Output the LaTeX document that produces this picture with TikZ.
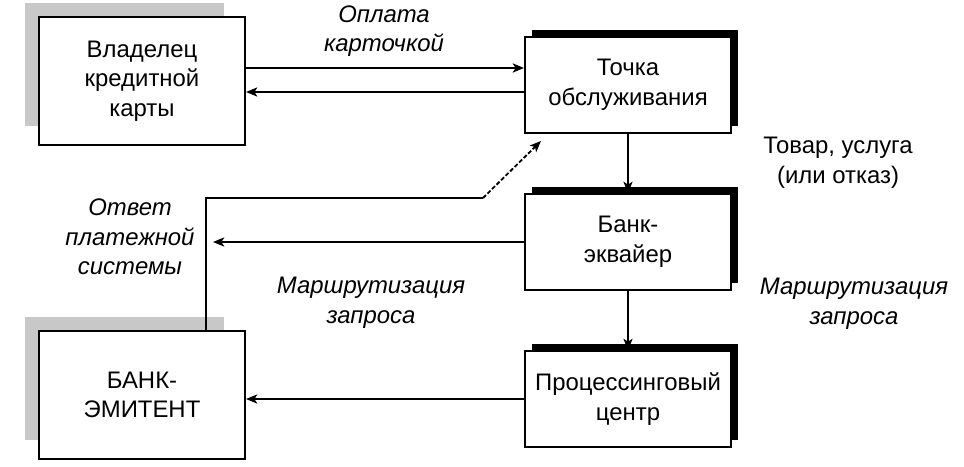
\documentclass[tikz,border=0pt]{standalone}
\usepackage{fontspec}
\setmainfont{Liberation Sans}
\usetikzlibrary{arrows.meta, positioning, calc, shadows}
\definecolor{shadowGray}{HTML}{C8C8C8}

\begin{document}
\begin{tikzpicture}[
    x=0.025cm, y=0.025cm,
    node distance=1.475cm,
    font=\fontsize{17}{21}\selectfont,
    box/.style={rectangle, draw, line width=1.4pt, fill=white, align=center, minimum width=5.15cm},
    leftbox/.style={box, minimum height=3.2cm, general shadow={fill=shadowGray, shadow xshift=-0.45cm, shadow yshift=0.43cm, shadow scale=0.965}},
    rightbox/.style={box, minimum height=2.4cm, general shadow={fill=black, shadow xshift=0.17cm, shadow yshift=0.18cm}},
    flow/.style={-{Stealth[length=8pt, width=6.5pt, inset=2pt]}, line width=1.3pt},
    lbl/.style={align=center, font=\fontsize{17}{21}\selectfont\itshape},
]
    \useasboundingbox (0,0) rectangle (964,466);

    \node[leftbox] (owner) at (142,385) {Владелец\\кредитной\\карты};
    \node[leftbox] (issuer) at (142,71) {БАНК-\\ЭМИТЕНТ};
    \node[rightbox] (merchant) at (628,381) {Точка\\обслуживания};
    \node[rightbox, below=of merchant] (acquirer) {Банк-\\эквайер};
    \node[rightbox, below=of acquirer] (proc) {Процессинговый\\центр};

    \coordinate (corner) at (206,268);
    \coordinate (kink) at (483,268);

    \draw[flow] ([yshift=0.325cm]owner.east) -- ([yshift=0.325cm]owner.east -| merchant.west);
    \draw[flow] ([yshift=-0.275cm]owner.east -| merchant.west) -- ([yshift=-0.275cm]owner.east);
    \draw[flow] (merchant) -- (acquirer);
    \draw[flow] (acquirer) -- (proc);
    \draw[flow] (acquirer.west) -- ([xshift=0.175cm]acquirer.west -| corner);
    \draw[flow] (proc.west) -- (proc.west -| issuer.east);
    \draw[line width=1.3pt] (issuer.north -| corner) -- (corner) -- (kink);
    \draw[flow, dash pattern=on 3pt off 1.5pt] (kink) -- ([shift={(0.425cm,-0.175cm)}]merchant.south west);

    \node[lbl] (paylbl) at (384,435) {Оплата\\карточкой};
    \node[align=center] (goodslbl) at (838,303) {Товар, услуга\\(или отказ)};
    \node[lbl] (replylbl) at (130,229) {Ответ\\платежной\\системы};
    \node[lbl] (routeleft) at (371,163) {Маршрутизация\\запроса};
    \node[lbl] (routeright) at (854,162) {Маршрутизация\\запроса};
\end{tikzpicture}
\end{document}
